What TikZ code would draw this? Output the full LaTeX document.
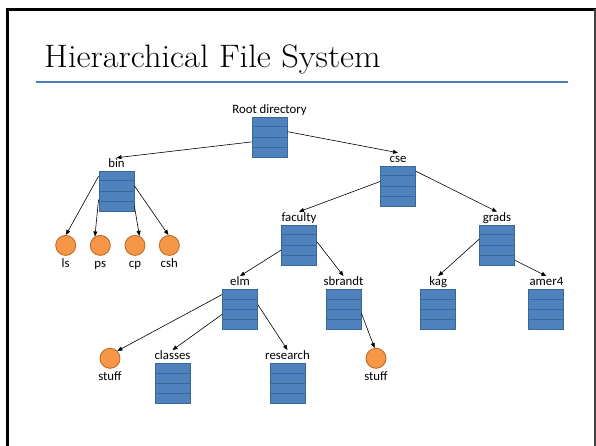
\documentclass[tikz,border=0pt]{standalone}
\usepackage{fontspec}
\newfontfamily\labfont{Carlito}
\usetikzlibrary{calc,arrows.meta}
\definecolor{boxfill}{HTML}{4F81BD}
\definecolor{boxline}{HTML}{3A6797}
\definecolor{filefill}{HTML}{F79646}
\definecolor{fileline}{HTML}{BA6C2C}
\definecolor{rulecol}{HTML}{4A7EBB}
\begin{document}
\begin{tikzpicture}[x=1pt,y=-1pt,
  dirbox/.style={rectangle, minimum width=35pt, minimum height=40pt, inner sep=0pt, fill=boxfill, draw=boxline, line width=0.9pt},
  filenode/.style={circle, minimum size=20pt, inner sep=0pt, fill=filefill, draw=fileline, line width=0.9pt},
  lab/.style={font=\labfont\fontsize{12.8}{14}\selectfont, inner sep=0pt, text height=9.4pt, text depth=3pt, text=black},
  stripe/.style={draw=boxline, line width=0.9pt},
  conn/.style={line width=0.6pt, -{Triangle[length=5pt,width=4pt]}},
  titlefont/.style={font=\fontsize{32.5}{38}\selectfont}
]
\useasboundingbox (0,0) rectangle (596,446);
\clip (0,0) rectangle (596,446);
% slide frame
\draw[line width=3pt] (7.5,460) -- (7.5,9.5) -- (596,9.5);
\draw[line width=1.3pt, black!75] (595,9.5) -- (595,460);
% title
\node[titlefont, anchor=base west, inner sep=0pt] (title) at (44,67.3) {\scalebox{1.06}[1]{Hierarchical File System}};
\coordinate (ruleL) at (36,82);
\coordinate (ruleR) at (568,82);
\draw[rulecol, line width=1.1pt] (ruleL) -- (ruleR);

% directories
\node[dirbox, label={[lab,name=rootL]above:Root directory}] (root) at (269.5,137) {};
\node[dirbox, label={[lab,name=cseL]above:cse}] (cse) at (398,186) {};
\node[dirbox, label={[lab,name=binL]above:bin}] (bin) at (116.5,191) {};
\node[dirbox, label={[lab,name=facultyL]above:faculty}] (faculty) at (299,245) {};
\node[dirbox, label={[lab,name=gradsL]above:grads}] (grads) at (497,245) {};
\node[dirbox, label={[lab,name=elmL]above:elm}] (elm) at (240,309.3) {};
\node[dirbox, label={[lab,name=sbrandtL]above:sbrandt}] (sbrandt) at (343.5,309.3) {};
\node[dirbox, label={[lab,name=kagL]above:kag}] (kag) at (438.2,309.3) {};
\node[dirbox, label={[lab,name=amerL]above:amer4}] (amer) at (546.4,309.3) {};
\node[dirbox, label={[lab,name=classesL]above:classes}] (classes) at (172.5,383.3) {};
\node[dirbox, label={[lab,name=researchL]above:research}] (research) at (287.5,383.3) {};
\foreach \n in {root,cse,bin,faculty,grads,elm,sbrandt,kag,amer,classes,research}
  \foreach \k in {0.25,0.5,0.75}
    \draw[stripe] ($(\n.north west)!\k!(\n.south west)$) -- ($(\n.north east)!\k!(\n.south east)$);

% files
\node[filenode, label={[lab,name=lsL,label distance=2pt]below:ls}] (ls) at (65.7,245.4) {};
\node[filenode, label={[lab,name=psL,label distance=2pt]below:ps}] (ps) at (100.3,245.4) {};
\node[filenode, label={[lab,name=cpL,label distance=2pt]below:cp}] (cp) at (135,245.4) {};
\node[filenode, label={[lab,name=cshL,label distance=2pt]below:csh}] (csh) at (169.3,245.4) {};
\node[filenode, label={[lab,name=stuffaL,label distance=2.5pt]below:stuff}] (stuffa) at (110,358.3) {};
\node[filenode, label={[lab,name=stuffbL,label distance=2.5pt]below:stuff}] (stuffb) at (376,358.3) {};

% connectors
\draw[conn] ($(root.north west)!0.62!(root.south west)$) -- (binL.north);
\draw[conn] ($(root.north east)!0.37!(root.south east)$) -- (cseL.north);
\draw[conn] ($(cse.north west)!0.39!(cse.south west)$) -- (facultyL.north);
\draw[conn] ($(cse.north east)!0.14!(cse.south east)$) -- (gradsL.north);
\draw[conn] ($(bin.north west)!0.14!(bin.south west)$) -- (ls.89);
\draw[conn] ($(bin.north west)!0.71!(bin.south west)$) -- (ps.121);
\draw[conn] ($(bin.north east)!0.875!(bin.south east)$) -- (cp.65);
\draw[conn] ($(bin.north east)!0.375!(bin.south east)$) -- (csh.95);
\draw[conn] ($(faculty.north west)!0.625!(faculty.south west)$) -- (elmL.north);
\draw[conn] ($(faculty.north east)!0.42!(faculty.south east)$) -- (sbrandtL.north);
\draw[conn] ($(grads.north west)!0.36!(grads.south west)$) -- (kagL.north);
\draw[conn] ($(grads.north east)!0.875!(grads.south east)$) -- (amerL.north);
\draw[conn] ($(elm.north west)!0.14!(elm.south west)$) -- (stuffa.45);
\draw[conn] ($(elm.north west)!0.625!(elm.south west)$) -- (classesL.north);
\draw[conn] ($(elm.north east)!0.39!(elm.south east)$) -- (researchL.north);
\draw[conn] ($(sbrandt.north east)!0.6!(sbrandt.south east)$) -- (stuffb.98);
\end{tikzpicture}
\end{document}
